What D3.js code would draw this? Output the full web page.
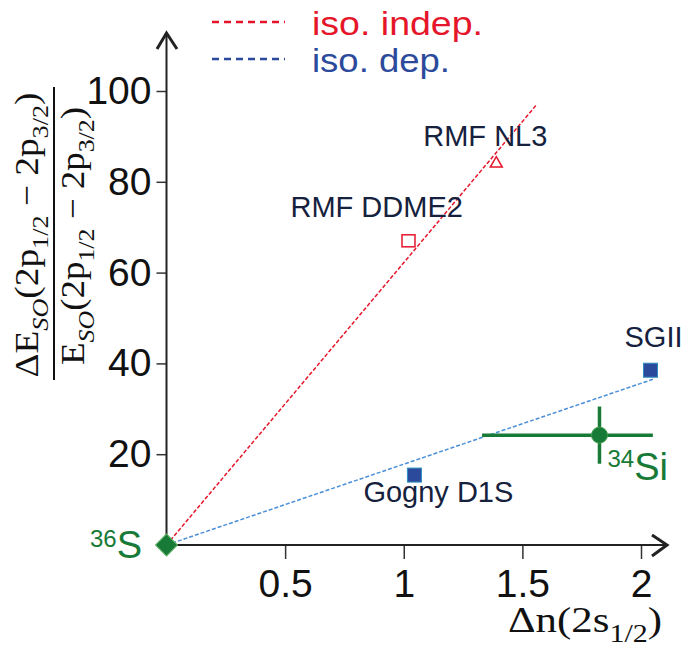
<!DOCTYPE html>
<html>
<head>
<meta charset="utf-8">
<script src="https://cdn.jsdelivr.net/npm/d3@7"></script>
<style>
  body { margin: 0; background: #fff; }
  svg { display: block; }
</style>
</head>
<body>
<div id="chart"></div>
<script>
// theory models
var modelNames = ["RMF NL3", "RMF DDME2", "SGII", "Gogny D1S"];
var modelDn = [1.39, 1.02, 2.04, 1.045];
var modelRatio = [84, 67, 38.5, 15.4];
var modelKind = ["indep", "indep", "dep", "dep"];

// experiment 34Si (with asymmetric x error)
var expName = "Si", expMass = "34";
var expDn = 1.825, expDnLow = 1.33, expDnHigh = 2.05;
var expRatio = 24.2, expRatioErr = 6.3;

// reference 36S
var refName = "S", refMass = "36";

// fit lines
var fitNames = ["iso. indep.", "iso. dep."];
var fitEndDn = [1.56, 2.05];
var fitEndRatio = [97, 36.5];

var xTicks = [0.5, 1, 1.5, 2];
var yTicks = [20, 40, 60, 80, 100];

var width = 686, height = 648;
var red = "#e5162a", darkBlue = "#2c4a9b", lightBlue = "#4a8fd8",
  green = "#177a36", navy = "#15213d";

var svg = d3.select("#chart").append("svg")
  .attr("width", width)
  .attr("height", height);

var x = d3.scaleLinear().domain([0, 2]).range([166.5, 641]);
var y = d3.scaleLinear().domain([0, 100]).range([545, 91]);

// x axis
var xAxis = svg.append("g")
  .attr("transform", "translate(0," + y(0) + ")")
  .call(d3.axisBottom(x).tickValues(xTicks).tickSize(14).tickPadding(10)
    .tickFormat(function (d) { return d; }));
xAxis.select(".domain").remove();
xAxis.selectAll("line").attr("stroke", "#333").attr("stroke-width", 1.5);
xAxis.selectAll("text")
  .attr("font-family", "Liberation Sans, Arial, sans-serif")
  .attr("font-size", 39).attr("fill", "#111");

// y axis
var yAxis = svg.append("g")
  .attr("transform", "translate(" + x(0) + ",0)")
  .call(d3.axisLeft(y).tickValues(yTicks).tickSize(10).tickPadding(5));
yAxis.select(".domain").remove();
yAxis.selectAll("line").attr("stroke", "#333").attr("stroke-width", 1.5);
yAxis.selectAll("text")
  .attr("font-family", "Liberation Sans, Arial, sans-serif")
  .attr("font-size", 39).attr("fill", "#111");

// axis lines with open arrow heads
var axisColor = "#222";
svg.append("line")
  .attr("x1", x(0)).attr("y1", y(0)).attr("x2", 667).attr("y2", y(0))
  .attr("stroke", axisColor).attr("stroke-width", 2);
svg.append("path")
  .attr("d", "M652,535 L667," + y(0) + " L652,556")
  .attr("fill", "none").attr("stroke", axisColor).attr("stroke-width", 3);
svg.append("line")
  .attr("x1", x(0)).attr("y1", y(0)).attr("x2", x(0)).attr("y2", 33)
  .attr("stroke", axisColor).attr("stroke-width", 2);
svg.append("path")
  .attr("d", "M157,49 L" + x(0) + ",33 L177,49")
  .attr("fill", "none").attr("stroke", axisColor).attr("stroke-width", 3);

// fit lines
var fitColors = [red, lightBlue];
fitNames.forEach(function (name, i) {
  svg.append("line")
    .attr("x1", x(0)).attr("y1", y(0))
    .attr("x2", x(fitEndDn[i])).attr("y2", y(fitEndRatio[i]))
    .attr("stroke", fitColors[i]).attr("stroke-width", 1.5)
    .attr("stroke-dasharray", "4,2");
});

// legend
var legendColors = [red, darkBlue];
var legendY = [22, 59];
var legendWidth = [171, 138];
fitNames.forEach(function (name, i) {
  svg.append("line")
    .attr("x1", 212).attr("x2", 285)
    .attr("y1", legendY[i]).attr("y2", legendY[i])
    .attr("stroke", legendColors[i]).attr("stroke-width", 2.5)
    .attr("stroke-dasharray", "7,5");
  svg.append("text")
    .attr("x", 312).attr("y", legendY[i] + 13)
    .attr("font-family", "Liberation Sans, Arial, sans-serif")
    .attr("font-size", 33)
    .attr("textLength", legendWidth[i])
    .attr("lengthAdjust", "spacingAndGlyphs")
    .attr("fill", legendColors[i])
    .text(name);
});

// model markers
var labelOffset = [[-73, -18], [-118, -24], [-26, -23], [-51, 27]];
modelNames.forEach(function (name, i) {
  var px = x(modelDn[i]), py = y(modelRatio[i]);
  if (name === "RMF NL3") {
    svg.append("path")
      .attr("transform", "translate(" + px + "," + py + ")")
      .attr("d", d3.symbol(d3.symbolTriangle).size(62)())
      .attr("fill", "#fff").attr("stroke", red).attr("stroke-width", 1.5);
  } else if (modelKind[i] === "indep") {
    svg.append("rect")
      .attr("x", px - 6.5).attr("y", py - 6).attr("width", 13).attr("height", 12)
      .attr("fill", "#fff").attr("stroke", red).attr("stroke-width", 1.5);
  } else {
    svg.append("rect")
      .attr("x", px - 7).attr("y", py - 7).attr("width", 14).attr("height", 14)
      .attr("fill", darkBlue).attr("stroke", "#2f8ec2").attr("stroke-width", 1);
  }
  svg.append("text")
    .attr("x", px + labelOffset[i][0]).attr("y", py + labelOffset[i][1])
    .attr("font-family", "Liberation Sans, Arial, sans-serif")
    .attr("font-size", 29).attr("fill", navy)
    .text(name);
});

// experimental point 34Si
svg.append("line")
  .attr("x1", x(expDnLow)).attr("x2", x(expDnHigh))
  .attr("y1", y(expRatio)).attr("y2", y(expRatio))
  .attr("stroke", green).attr("stroke-width", 3.5);
svg.append("line")
  .attr("x1", x(expDn)).attr("x2", x(expDn))
  .attr("y1", y(expRatio - expRatioErr)).attr("y2", y(expRatio + expRatioErr))
  .attr("stroke", green).attr("stroke-width", 3.5);
svg.append("circle")
  .attr("cx", x(expDn)).attr("cy", y(expRatio)).attr("r", 8)
  .attr("fill", green).attr("stroke", "#3f9e4c").attr("stroke-width", 1);

var siLabel = svg.append("text")
  .attr("x", x(expDn) + 8).attr("y", y(expRatio) + 45)
  .attr("font-family", "Liberation Sans, Arial, sans-serif")
  .attr("fill", green);
siLabel.append("tspan").attr("font-size", 24).attr("dy", -13).text(expMass);
siLabel.append("tspan").attr("font-size", 38).attr("dy", 13).text(expName);

// reference point 36S
svg.append("path")
  .attr("transform", "translate(" + x(0) + "," + y(0) + ") rotate(45)")
  .attr("d", d3.symbol(d3.symbolSquare).size(240)())
  .attr("fill", green).attr("stroke", "#5cae5f").attr("stroke-width", 1);
var sLabel = svg.append("text")
  .attr("x", 90).attr("y", 558)
  .attr("font-family", "Liberation Sans, Arial, sans-serif")
  .attr("fill", green);
sLabel.append("tspan").attr("font-size", 24).attr("dy", -11).text(refMass);
sLabel.append("tspan").attr("font-size", 38).attr("dy", 11).text(refName);

// math style labels
function mathText(g, parts, size) {
  var t = g.append("text")
    .attr("font-family", "Liberation Serif, Times New Roman, serif")
    .attr("font-size", size).attr("fill", "#111");
  var shift = 0;
  parts.forEach(function (p) {
    var s = t.append("tspan").text(p.t);
    var target = p.sub ? size * 0.28 : 0;
    s.attr("dy", target - shift);
    shift = target;
    if (p.sub) s.attr("font-size", size * 0.7);
    if (p.italic) s.attr("font-style", "italic");
  });
  return t;
}

var numParts = [
  { t: "ΔE" }, { t: "SO", sub: true, italic: true }, { t: "(2p" },
  { t: "1/2", sub: true }, { t: " − 2p" }, { t: "3/2", sub: true }, { t: ")" }
];
var denParts = [
  { t: "E" }, { t: "SO", sub: true, italic: true }, { t: "(2p" },
  { t: "1/2", sub: true }, { t: " − 2p" }, { t: "3/2", sub: true }, { t: ")" }
];
var num = svg.append("g").attr("transform", "translate(38,235) rotate(-90)");
mathText(num, numParts, 34).attr("text-anchor", "middle")
  .attr("textLength", 285).attr("lengthAdjust", "spacingAndGlyphs");
svg.append("line")
  .attr("x1", 54).attr("x2", 54).attr("y1", 87).attr("y2", 380)
  .attr("stroke", "#111").attr("stroke-width", 2);
var den = svg.append("g").attr("transform", "translate(84,236) rotate(-90)");
mathText(den, denParts, 34).attr("text-anchor", "middle")
  .attr("textLength", 258).attr("lengthAdjust", "spacingAndGlyphs");

var xl = svg.append("g").attr("transform", "translate(662,632)");
mathText(xl, [{ t: "Δn(2s" }, { t: "1/2", sub: true }, { t: ")" }], 35)
  .attr("text-anchor", "end")
  .attr("textLength", 154).attr("lengthAdjust", "spacingAndGlyphs");
</script>
</body>
</html>
